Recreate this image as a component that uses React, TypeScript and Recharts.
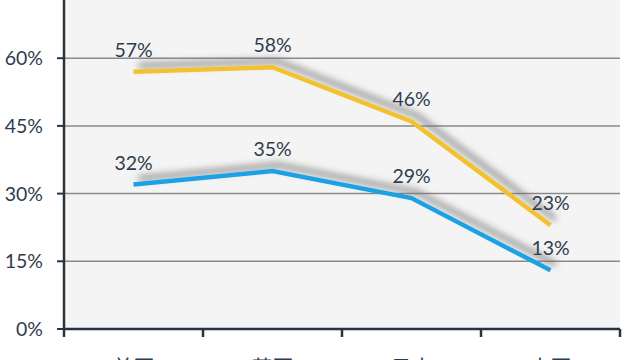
import React from 'react';
import { LineChart, Line, XAxis, YAxis, CartesianGrid, LabelList } from 'recharts';

const countries = ['美国', '英国', '日本', '中国'];
const seriesYellow = [57, 58, 46, 23];
const seriesBlue = [32, 35, 29, 13];
const yTicks = [0, 15, 30, 45, 60];

const data = countries.map((name, i) => ({ name, yellow: seriesYellow[i], blue: seriesBlue[i] }));

const AXIS = '#2a3440';
const TEXT = '#2f3c4d';
const FONT = 'Lato, "Noto Sans CJK SC", sans-serif';

const CHART_W = 640;
const MARGIN = { top: 20.5, right: 20, left: 0, bottom: 20 };
const Y_AXIS_W = 64;
const PLOT_W = CHART_W - MARGIN.left - MARGIN.right - Y_AXIS_W;
const BAND = PLOT_W / countries.length;
const TICK_MARGIN = 31;
const TICK_LEN = 8;

function CatTick(props: any) {
  const { x, y, payload, index, visibleTicksCount } = props;
  const half = BAND / 2;
  const y0 = y - TICK_MARGIN;
  const isLast = index === visibleTicksCount - 1;
  return (
    <g>
      <line x1={x - half} x2={x - half} y1={y0} y2={y0 + TICK_LEN} stroke={AXIS} strokeWidth={2.5} />
      {isLast && <line x1={x + half} x2={x + half} y1={y0} y2={y0 + TICK_LEN} stroke={AXIS} strokeWidth={2.5} />}
      <text x={x} y={y} dy="0.71em" textAnchor="middle" fill={TEXT} fontSize={21} fontFamily={FONT}>
        {payload.value}
      </text>
    </g>
  );
}

export default function App() {
  return (
    <div style={{ position: 'absolute', left: 0, top: -30 }}>
      <LineChart width={CHART_W} height={420} data={data} margin={MARGIN}>
        <defs>
          <filter id="shadow" x="-20%" y="-50%" width="140%" height="200%">
            <feDropShadow dx="5" dy="-6" stdDeviation="3.5" floodColor="#6e6e6e" floodOpacity="0.85" />
          </filter>
        </defs>
        <CartesianGrid vertical={false} stroke="#8a8a8a" strokeWidth={1.5} fill="#f4f4f4" />
        <XAxis
          dataKey="name"
          padding={{ left: BAND / 2, right: BAND / 2 }}
          height={41}
          axisLine={{ stroke: AXIS, strokeWidth: 2.5 }}
          tickLine={false}
          tickSize={0}
          tickMargin={TICK_MARGIN}
          interval={0}
          tick={<CatTick />}
        />
        <YAxis
          domain={[0, 75]}
          ticks={yTicks}
          tickFormatter={(v: number) => `${v}%`}
          width={Y_AXIS_W}
          tickSize={7}
          tickMargin={14}
          axisLine={{ stroke: AXIS, strokeWidth: 2.5 }}
          tickLine={{ stroke: AXIS, strokeWidth: 2 }}
          tick={{ fill: TEXT, fontSize: 19.5, fontFamily: FONT }}
        />
        <Line
          dataKey="yellow"
          stroke="#f2c12e"
          strokeWidth={4.5}
          dot={false}
          filter="url(#shadow)"
          isAnimationActive={false}
        >
          <LabelList dataKey="yellow" position="top" offset={15} formatter={(v: number) => `${v}%`} fill={TEXT} fontSize={19.5} fontFamily={FONT} />
        </Line>
        <Line
          dataKey="blue"
          stroke="#1ea2e4"
          strokeWidth={4.5}
          dot={false}
          filter="url(#shadow)"
          isAnimationActive={false}
        >
          <LabelList dataKey="blue" position="top" offset={15} formatter={(v: number) => `${v}%`} fill={TEXT} fontSize={19.5} fontFamily={FONT} />
        </Line>
      </LineChart>
    </div>
  );
}
